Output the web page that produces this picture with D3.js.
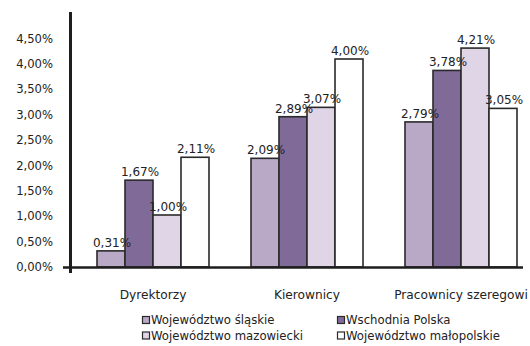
<!DOCTYPE html>
<html>
<head>
<meta charset="utf-8">
<script src="https://cdn.jsdelivr.net/npm/d3@7"></script>
<style>
  html, body { margin: 0; padding: 0; background: #fff; }
  svg { display: block; font-family: "DejaVu Sans", Verdana, sans-serif; }
</style>
</head>
<body>
<svg id="chart" width="530" height="346"></svg>
<script>
// Job categories along the x axis
const categories = ["Dyrektorzy", "Kierownicy", "Pracownicy szeregowi"];

// Region series (values in %)
const seriesNames = [
  "Województwo śląskie",
  "Wschodnia Polska",
  "Województwo mazowiecki",
  "Województwo małopolskie"
];
const slaskie     = [0.31, 2.09, 2.79];
const wschodnia   = [1.67, 2.89, 3.78];
const mazowiecki  = [1.00, 3.07, 4.21];
const malopolskie = [2.11, 4.00, 3.05];

// Y axis tick values
const yTicks = [0, 0.5, 1, 1.5, 2, 2.5, 3, 3.5, 4, 4.5];

const colors = ["#b9a9c7", "#806a98", "#e0d5e6", "#ffffff"];
const seriesValues = [slaskie, wschodnia, mazowiecki, malopolskie];

const fmt = v => d3.format(".2f")(v).replace(".", ",") + "%";
const FONT = "DejaVu Sans, Verdana, sans-serif";

const svg = d3.select("#chart");

// Scales
const x0 = d3.scaleBand().domain(categories).range([76, 538]).paddingInner(0).paddingOuter(0);
const x1 = d3.scaleBand().domain(seriesNames).range([21, 133]).padding(0);
const y = d3.scaleLinear().domain([0, 4.5]).range([267, 33]);
const yLab = d3.scaleLinear().domain([0, 4.5]).range([267, 38.5]);

// Tick labels on the value axis
const yAxis = d3.axisLeft(yLab).tickValues(yTicks).tickFormat(fmt).tickSize(0).tickPadding(0);
const yg = svg.append("g").attr("transform", "translate(53,0)").call(yAxis);
yg.select(".domain").remove();
yg.selectAll("text").attr("font-size", 11.6).attr("fill", "#222").attr("font-family", FONT);

// Bars
const rows = [];
categories.forEach((c, i) => {
  seriesNames.forEach((s, j) => rows.push({ cat: c, series: s, j, value: seriesValues[j][i] }));
});

svg.append("g").selectAll("rect").data(rows).join("rect")
  .attr("x", d => x0(d.cat) + x1(d.series))
  .attr("y", d => y(d.value))
  .attr("width", x1.bandwidth())
  .attr("height", d => y(0) - y(d.value))
  .attr("fill", d => colors[d.j])
  .attr("stroke", "#2a2a2a")
  .attr("stroke-width", 1.6);

// Value labels
svg.append("g").selectAll("text").data(rows).join("text")
  .attr("x", d => x0(d.cat) + x1(d.series) + x1.bandwidth() / 2 + 1)
  .attr("y", d => y(d.value) - 4)
  .attr("text-anchor", "middle")
  .attr("font-size", 12)
  .attr("fill", "#222")
  .text(d => fmt(d.value));

// Axis lines
svg.append("line").attr("x1", 70.5).attr("x2", 70.5).attr("y1", 12).attr("y2", 273)
  .attr("stroke", "#1e1e1e").attr("stroke-width", 3);
svg.append("line").attr("x1", 63).attr("x2", 523).attr("y1", y(0) + 0.5).attr("y2", y(0) + 0.5)
  .attr("stroke", "#1e1e1e").attr("stroke-width", 2.5);

// Category labels
const xAxis = d3.axisBottom(x0).tickSize(0).tickPadding(0);
const xg = svg.append("g").attr("transform", "translate(0,299)").call(xAxis);
xg.select(".domain").remove();
xg.selectAll("text").attr("font-size", 12.2).attr("fill", "#222").attr("dy", 0)
  .attr("font-family", FONT);

// Legend
const legendPos = [[142, 320], [337, 320], [142, 335.5], [337, 335.5]];
const lg = svg.append("g");
seriesNames.forEach((s, j) => {
  const [lx, ly] = legendPos[j];
  lg.append("rect").attr("x", lx + 0.5).attr("y", ly - 3.5).attr("width", 7).attr("height", 7)
    .attr("fill", colors[j]).attr("stroke", "#2a2a2a").attr("stroke-width", 1.2);
  lg.append("text").attr("x", lx + 9).attr("y", ly).attr("dy", "0.36em")
    .attr("font-size", 11.7).attr("fill", "#222").text(s);
});
</script>
</body>
</html>
